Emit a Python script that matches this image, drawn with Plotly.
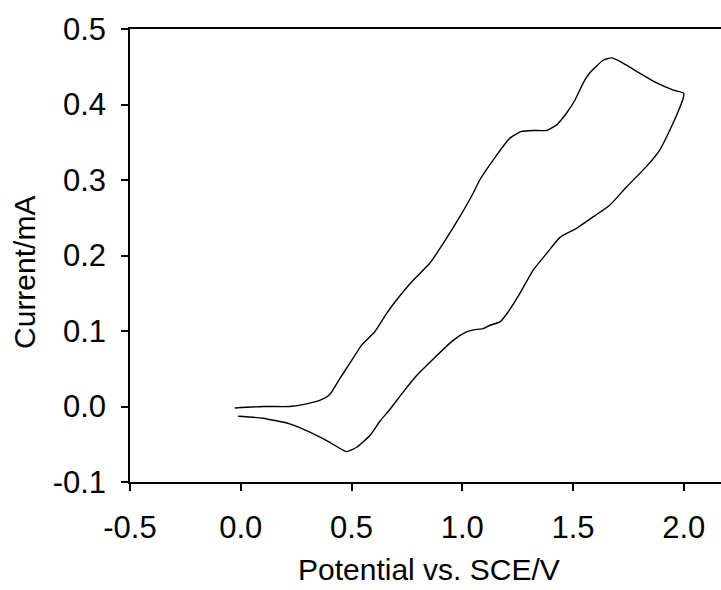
import plotly.graph_objects as go

# Forward (anodic) scan: potential (V) and current (mA)
fwd_potential = [-0.027, 0.10, 0.221, 0.297, 0.364, 0.402, 0.447, 0.492, 0.545, 0.605, 0.658,
                 0.703, 0.771, 0.854, 0.914, 0.989, 1.049, 1.079, 1.140, 1.215, 1.268, 1.320,
                 1.381, 1.426, 1.471, 1.509, 1.545, 1.576, 1.636, 1.674, 1.712, 1.787, 1.878,
                 1.953, 1.998, 2.000]
fwd_current = [-0.002, 0.000, 0.000, 0.0035, 0.009, 0.016, 0.037, 0.057, 0.081, 0.099, 0.123,
               0.141, 0.165, 0.190, 0.216, 0.2514, 0.2825, 0.300, 0.3267, 0.3555, 0.3643, 0.3656,
               0.3656, 0.373, 0.3887, 0.406, 0.428, 0.442, 0.4586, 0.4617, 0.457, 0.444, 0.4285,
               0.419, 0.4153, 0.412]

# Reverse (cathodic) scan
rev_potential = [1.995, 1.975, 1.938, 1.892, 1.832, 1.742, 1.667, 1.592, 1.516, 1.441, 1.381,
                 1.320, 1.260, 1.207, 1.170, 1.125, 1.094, 1.050, 1.019, 0.959, 0.869, 0.794,
                 0.733, 0.673, 0.628, 0.583, 0.523, 0.477, 0.402, 0.312, 0.221, 0.10, -0.012]
rev_current = [0.406, 0.391, 0.3665, 0.340, 0.318, 0.291, 0.267, 0.2514, 0.236, 0.224, 0.2028,
               0.1806, 0.1497, 0.1252, 0.112, 0.1076, 0.1032, 0.1015, 0.0987, 0.0876, 0.063, 0.041,
               0.019, -0.004, -0.0195, -0.0385, -0.054, -0.0598, -0.0474, -0.034, -0.023, -0.0155,
               -0.013]

x_ticks = [-0.5, 0.0, 0.5, 1.0, 1.5, 2.0]
x_tick_labels = ["-0.5", "0.0", "0.5", "1.0", "1.5", "2.0"]
y_ticks = [-0.1, 0.0, 0.1, 0.2, 0.3, 0.4, 0.5]
y_tick_labels = ["-0.1", "0.0", "0.1", "0.2", "0.3", "0.4", "0.5"]

x_title = "Potential vs. SCE/V"
y_title = "Current/mA"

fig = go.Figure()
fig.add_trace(go.Scatter(
    x=fwd_potential + rev_potential,
    y=fwd_current + rev_current,
    mode="lines",
    line=dict(color="black", width=1.4, shape="spline", smoothing=0.5),
    showlegend=False,
))

font = dict(family="Liberation Sans, Arial, sans-serif", color="black")

fig.update_layout(
    width=721, height=590,
    margin=dict(l=130, r=0, t=29, b=108, pad=0),
    paper_bgcolor="white", plot_bgcolor="white",
    font=font,
    showlegend=False,
    xaxis=dict(
        range=[-0.5, 2.168], tickvals=x_ticks, ticktext=x_tick_labels,
        showgrid=False, zeroline=False, showline=True, linecolor="black", linewidth=1.5,
        mirror=True, ticks="outside", ticklen=7, tickwidth=1.5, tickcolor="black",
        tickfont=dict(size=31, **font), ticklabelstandoff=10,
    ),
    yaxis=dict(
        range=[-0.1, 0.5], tickvals=y_ticks, ticktext=y_tick_labels,
        showgrid=False, zeroline=False, showline=True, linecolor="black", linewidth=1.5,
        mirror=False, ticks="outside", ticklen=7, tickwidth=1.5, tickcolor="black",
        tickfont=dict(size=31, **font), ticklabelstandoff=9,
    ),
    annotations=[
        dict(text=x_title, xref="paper", yref="paper", x=0.506, y=-0.194,
             xanchor="center", yanchor="middle", showarrow=False,
             font=dict(size=30, **font)),
        dict(text=y_title, xref="paper", yref="paper", x=-0.1777, y=0.4636,
             xanchor="center", yanchor="middle", showarrow=False, textangle=-90,
             font=dict(size=30, **font)),
    ],
)

fig.write_html("out.html", config={"displayModeBar": False},
               post_script="document.body.style.margin='0';")
